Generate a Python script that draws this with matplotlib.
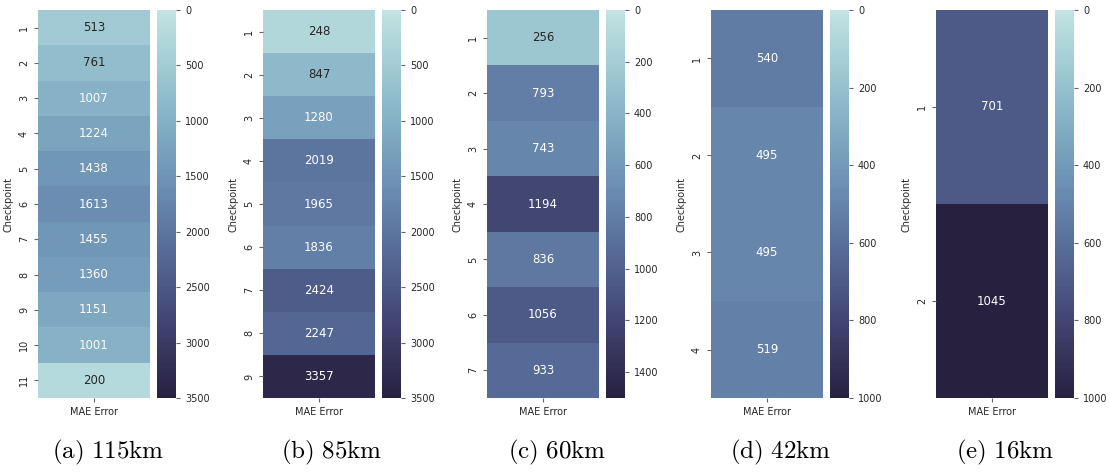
import pandas as pd
import matplotlib
matplotlib.use('Agg')
import matplotlib.pyplot as plt
import seaborn as sns

# MAE error per checkpoint for each route length
mae_115 = [513, 761, 1007, 1224, 1438, 1613, 1455, 1360, 1151, 1001, 200]
mae_85 = [248, 847, 1280, 2019, 1965, 1836, 2424, 2247, 3357]
mae_60 = [256, 793, 743, 1194, 836, 1056, 933]
mae_42 = [540, 495, 495, 519]
mae_16 = [701, 1045]

captions = ['(a) 115km', '(b) 85km', '(c) 60km', '(d) 42km', '(e) 16km']
vmaxes = [3500, 3500, 1500, 1000, 1000]
cbar_ticks = [list(range(0, 3501, 500)), list(range(0, 3501, 500)),
              list(range(0, 1401, 200)), list(range(0, 1001, 200)),
              list(range(0, 1001, 200))]

# left edge of heatmap (px) and centre of caption (px)
heat_left = [38, 263, 487, 711, 936]
cap_x = [108, 332, 557, 781, 1005]

plt.rcParams['mathtext.fontset'] = 'cm'

W, H = 1110, 473
fig = plt.figure(figsize=(W / 100, H / 100), dpi=100)
cmap = sns.color_palette("ch:start=.2,rot=-.3", as_cmap=True)

series = [mae_115, mae_85, mae_60, mae_42, mae_16]
bottom = (H - 398) / H
height = 388 / H
for i, vals in enumerate(series):
    df = pd.DataFrame({'MAE Error': vals}, index=range(1, len(vals) + 1))
    df.index.name = 'Checkpoint'
    ax = fig.add_axes([heat_left[i] / W, bottom, 112 / W, height])
    cax = fig.add_axes([(heat_left[i] + 119) / W, bottom, 19 / W, height])
    sns.heatmap(df, ax=ax, cbar_ax=cax, cmap=cmap, vmin=0, vmax=vmaxes[i],
                annot=True, fmt='d', annot_kws={'fontsize': 8.5},
                cbar_kws={'ticks': cbar_ticks[i]})
    # dark text on light cells, white elsewhere
    for t in ax.texts:
        t.set_color('0.15' if int(t.get_text()) / vmaxes[i] < 0.27 else 'white')
    cax.invert_yaxis()
    cax.tick_params(labelsize=7, length=3, color='0.4', labelcolor='0.15')
    ax.tick_params(labelsize=7, length=3, color='0.4', labelcolor='0.15')
    ax.set_yticklabels(ax.get_yticklabels(), rotation=90, va='center')
    ax.set_ylabel('Checkpoint', fontsize=7, color='0.15')
    fig.text(cap_x[i] / W, (H - 452) / H, r'$\mathrm{' + captions[i].replace(' ', r'\ ') + '}$',
             ha='center', va='center', fontsize=18)

plt.savefig('out.png', dpi=100)
